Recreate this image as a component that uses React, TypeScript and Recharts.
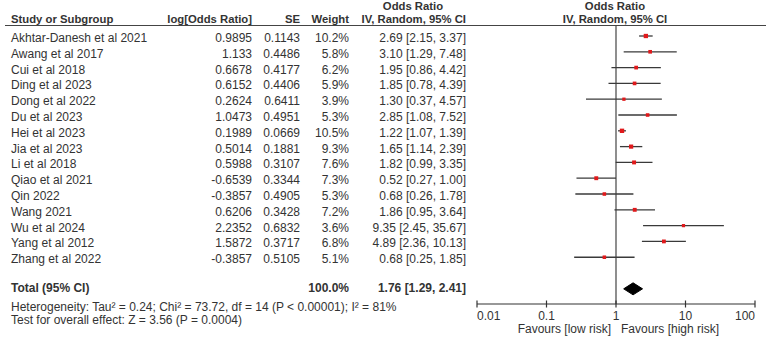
import React from 'react';
import { ComposedChart, Scatter, Area, XAxis, YAxis, ErrorBar, ReferenceLine } from 'recharts';

const studies = [
  'Akhtar-Danesh et al 2021', 'Awang et al 2017', 'Cui et al 2018', 'Ding et al 2023', 'Dong et al 2022',
  'Du et al 2023', 'Hei et al 2023', 'Jia et al 2023', 'Li et al 2018', 'Qiao et al 2021',
  'Qin 2022', 'Wang 2021', 'Wu et al 2024', 'Yang et al 2012', 'Zhang et al 2022',
];
const logOR = ['0.9895', '1.133', '0.6678', '0.6152', '0.2624', '1.0473', '0.1989', '0.5014', '0.5988', '-0.6539', '-0.3857', '0.6206', '2.2352', '1.5872', '-0.3857'];
const seVals = ['0.1143', '0.4486', '0.4177', '0.4406', '0.6411', '0.4951', '0.0669', '0.1881', '0.3107', '0.3344', '0.4905', '0.3428', '0.6832', '0.3717', '0.5105'];
const weights = [10.2, 5.8, 6.2, 5.9, 3.9, 5.3, 10.5, 9.3, 7.6, 7.3, 5.3, 7.2, 3.6, 6.8, 5.1];
const orVals = [2.69, 3.10, 1.95, 1.85, 1.30, 2.85, 1.22, 1.65, 1.82, 0.52, 0.68, 1.86, 9.35, 4.89, 0.68];
const ciLow = [2.15, 1.29, 0.86, 0.78, 0.37, 1.08, 1.07, 1.14, 0.99, 0.27, 0.26, 0.95, 2.45, 2.36, 0.25];
const ciHigh = [3.37, 7.48, 4.42, 4.39, 4.57, 7.52, 1.39, 2.39, 3.35, 1.00, 1.78, 3.64, 35.67, 10.13, 1.85];

const totalOR = 1.76;
const totalLow = 1.29;
const totalHigh = 2.41;
const totalWeight = 100.0;
const totalRow = 17;

const xTicks = [0.01, 0.1, 1, 10, 100];
const tickLabels = ['0.01', '0.1', '1', '10', '100'];

const heterogeneityText = 'Heterogeneity: Tau\u00B2 = 0.24; Chi\u00B2 = 73.72, df = 14 (P < 0.00001); I\u00B2 = 81%';
const overallText = 'Test for overall effect: Z = 3.56 (P = 0.0004)';

const FONT = '"Liberation Sans", Arial, sans-serif';
const TXT = '#333333';
const DIAMOND_HALF = 0.38;

const studyData = studies.map((name, i) => ({
  name,
  x: orVals[i],
  y: i + 1,
  err: [orVals[i] - ciLow[i], ciHigh[i] - orVals[i]],
  logOR: logOR[i],
  se: seVals[i],
  weight: weights[i],
  lo: ciLow[i],
  hi: ciHigh[i],
}));

const totalData = [{ x: totalOR, y: totalRow }];
const diamondData = [
  { x: totalLow, band: [totalRow, totalRow] },
  { x: totalOR, band: [totalRow - DIAMOND_HALF, totalRow + DIAMOND_HALF] },
  { x: totalHigh, band: [totalRow, totalRow] },
];

const textStyle = { fontFamily: FONT, fontSize: 12, fill: TXT } as const;
const headStyle = { fontFamily: FONT, fontSize: 11.3, fill: TXT, fontWeight: 'bold' } as const;

const StudyShape = (props: any) => {
  const { cx, cy, payload } = props;
  const s = 1.6 + 0.85 * Math.sqrt(payload.weight);
  const ty = cy + 6;
  return (
    <g>
      <rect x={cx - s / 2} y={cy - s / 2} width={s} height={s} fill="#e0191b" />
      <text x={11} y={ty} {...textStyle}>{payload.name}</text>
      <text x={252} y={ty} textAnchor="end" {...textStyle}>{payload.logOR}</text>
      <text x={300} y={ty} textAnchor="end" {...textStyle}>{payload.se}</text>
      <text x={349} y={ty} textAnchor="end" {...textStyle}>{payload.weight.toFixed(1)}%</text>
      <text x={466} y={ty} textAnchor="end" {...textStyle}>
        {`${payload.x.toFixed(2)} [${payload.lo.toFixed(2)}, ${payload.hi.toFixed(2)}]`}
      </text>
    </g>
  );
};

const TotalShape = (props: any) => {
  const { cy } = props;
  const ty = cy + 3.5;
  return (
    <g>
      <text x={11} y={ty} {...textStyle} fontWeight="bold">Total (95% CI)</text>
      <text x={349} y={ty} textAnchor="end" {...textStyle} fontWeight="bold">{totalWeight.toFixed(1)}%</text>
      <text x={466} y={ty} textAnchor="end" {...textStyle} fontWeight="bold">
        {`${totalOR.toFixed(2)} [${totalLow.toFixed(2)}, ${totalHigh.toFixed(2)}]`}
      </text>
    </g>
  );
};

const AxisTick = (props: any) => {
  const { x, y, payload } = props;
  const idx = xTicks.indexOf(payload.value);
  const anchor = idx === 0 ? 'start' : idx === xTicks.length - 1 ? 'end' : 'middle';
  return (
    <g>
      <line x1={x} x2={x} y1={y - 3.5} y2={y + 3.5} stroke="#333" strokeWidth={1.2} />
      <text x={x} y={y + 16} textAnchor={anchor} {...textStyle}>{tickLabels[idx]}</text>
    </g>
  );
};

export default function App() {
  return (
    <div style={{ position: 'absolute', left: 0, top: 0, width: 767, height: 339, background: '#fff' }}>
      <ComposedChart
        width={767}
        height={339}
        data={diamondData}
        margin={{ top: 25, right: 12, bottom: 5, left: 477 }}
      >
        <XAxis
          dataKey="x"
          type="number"
          scale="log"
          domain={[0.01, 100]}
          ticks={xTicks}
          height={30}
          tickSize={0}
          tickMargin={0}
          tickLine={false}
          axisLine={{ stroke: '#333', strokeWidth: 1.2 }}
          tick={<AxisTick />}
          interval={0}
        />
        <YAxis dataKey="y" type="number" domain={[0.304, 17.96]} reversed hide />
        <ReferenceLine x={1} stroke="#444" strokeWidth={1.2} />
        <Area
          dataKey="band"
          type="linear"
          stroke="#000"
          strokeWidth={1}
          fill="#000"
          fillOpacity={1}
          isAnimationActive={false}
          dot={false}
          activeDot={false}
        />
        <Scatter data={studyData} shape={<StudyShape />} isAnimationActive={false}>
          <ErrorBar dataKey="err" direction="x" width={0} stroke="#3a3a3a" strokeWidth={1.3} />
        </Scatter>
        <Scatter data={totalData} shape={<TotalShape />} isAnimationActive={false} />
      </ComposedChart>
      <svg
        width={767}
        height={339}
        style={{ position: 'absolute', left: 0, top: 0, pointerEvents: 'none' }}
      >
        <line x1={5} x2={766} y1={25.5} y2={25.5} stroke="#444" strokeWidth={1.2} />
        <text x={11} y={22.5} {...headStyle}>Study or Subgroup</text>
        <text x={252} y={22.5} textAnchor="end" {...headStyle}>log[Odds Ratio]</text>
        <text x={300} y={22.5} textAnchor="end" {...headStyle}>SE</text>
        <text x={349} y={22.5} textAnchor="end" {...headStyle}>Weight</text>
        <text x={413} y={10} textAnchor="middle" {...headStyle}>Odds Ratio</text>
        <text x={466} y={22.5} textAnchor="end" {...headStyle}>IV, Random, 95% CI</text>
        <text x={615} y={10} textAnchor="middle" {...headStyle}>Odds Ratio</text>
        <text x={615} y={22.5} textAnchor="middle" {...headStyle}>IV, Random, 95% CI</text>
        <text x={11} y={311} {...textStyle}>{heterogeneityText}</text>
        <text x={11} y={324} {...textStyle}>{overallText}</text>
        <text x={611} y={333} textAnchor="end" {...textStyle}>Favours [low risk]</text>
        <text x={621} y={333} {...textStyle}>Favours [high risk]</text>
      </svg>
    </div>
  );
}
